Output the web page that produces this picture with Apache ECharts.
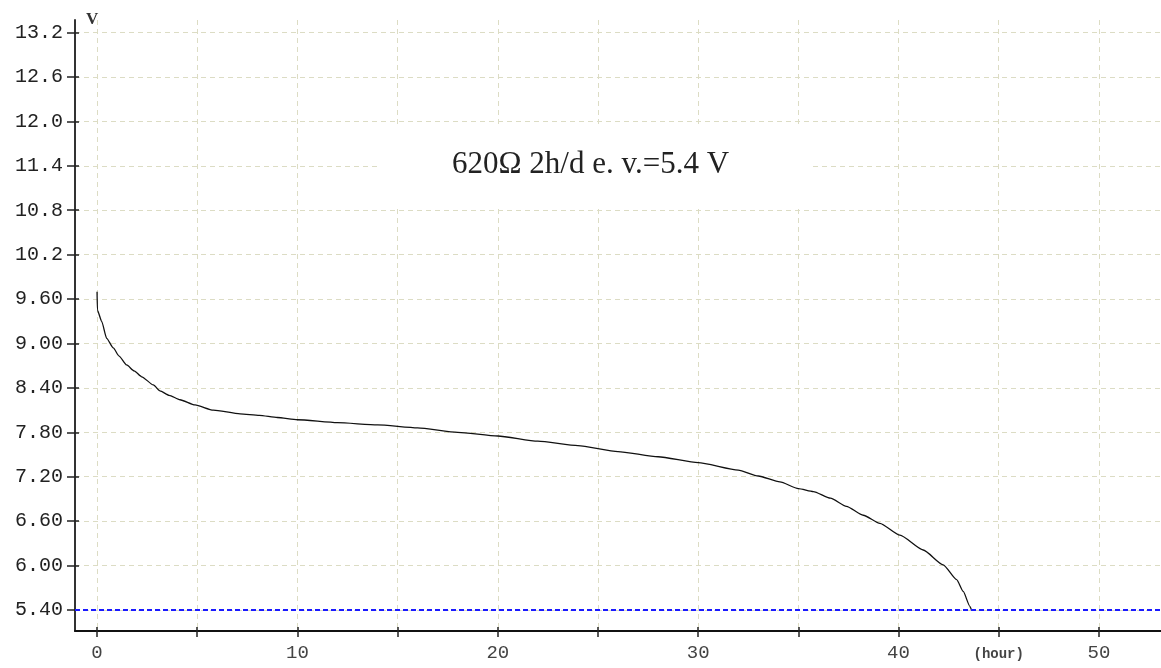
<!DOCTYPE html>
<html><head><meta charset="utf-8">
<script src="https://cdn.jsdelivr.net/npm/echarts@6/dist/echarts.min.js"></script>
<style>html,body{margin:0;padding:0;background:#fff}#c{width:1161px;height:668px}</style>
</head><body><div id="c"></div>
<script>
// discharge curve (hours, volts)
const hours = [0, 0.02, 0.23, 0.48, 0.81, 1.1, 1.48, 1.85, 2.23, 2.81, 3.14, 3.6, 4.14, 4.89, 5.8, 7.14, 8.1, 9, 10, 12, 14, 16, 18, 20, 22, 24, 26, 28, 30, 32, 33, 34.08, 35.0, 35.75, 36.6, 37.4, 38.24, 39.07, 40.07, 41.23, 42.23, 42.9, 43.23, 43.56, 43.64];
const volts = [9.70, 9.45, 9.30, 9.07, 8.94, 8.83, 8.71, 8.63, 8.55, 8.44, 8.36, 8.30, 8.24, 8.17, 8.10, 8.05, 8.03, 8.00, 7.97, 7.93, 7.90, 7.86, 7.80, 7.75, 7.68, 7.62, 7.54, 7.47, 7.39, 7.29, 7.21, 7.13, 7.04, 7.00, 6.91, 6.80, 6.68, 6.57, 6.41, 6.21, 6.01, 5.81, 5.65, 5.45, 5.40];
const cutoffVoltage = 5.4;
const yTickValues = [5.4, 6.0, 6.6, 7.2, 7.8, 8.4, 9.0, 9.6, 10.2, 10.8, 11.4, 12.0, 12.6, 13.2];
const yTickLabels = ['5.40', '6.00', '6.60', '7.20', '7.80', '8.40', '9.00', '9.60', '10.2', '10.8', '11.4', '12.0', '12.6', '13.2'];
const xTickValues = [0, 5, 10, 15, 20, 25, 30, 35, 40, 45, 50];
const xLabelValues = [0, 10, 20, 30, 40, 45, 50];
const xLabelTexts = ['0', '10', '20', '30', '40', '(hour)', '50'];
const titleText = '620Ω 2h/d e. v.=5.4 V';
const yUnit = 'V';

const data = hours.map((h, i) => [h, volts[i]]);
const nearestIdx = (arr, v) => { let b = 0; arr.forEach((a, i) => { if (Math.abs(a - v) < Math.abs(arr[b] - v)) b = i; }); return b; };

const gridColor = '#dcdcc4';
const mono = '"Liberation Mono", "DejaVu Sans Mono", monospace';

const chart = echarts.init(document.getElementById('c'), null, {renderer: 'canvas'});
chart.setOption({
  animation: false,
  backgroundColor: '#fff',
  title: {
    text: titleText,
    left: 380, top: 124,
    padding: [25, 80, 25, 72],
    backgroundColor: '#fff',
    textStyle: {fontFamily: '"Liberation Serif", serif', fontSize: 31, fontWeight: 'normal', color: '#222'}
  },
  grid: {left: 75, right: 0, top: 20, bottom: 37, containLabel: false, outerBoundsMode: 'none'},
  xAxis: [{
    type: 'value', min: -1.1, max: 53.1,
    axisLine: {show: true, onZero: false, lineStyle: {color: '#111', width: 2}},
    axisTick: {show: true, inside: false, length: 6, customValues: xTickValues, lineStyle: {color: '#222', width: 1.5}},
    axisLabel: {
      show: true, margin: 12, customValues: xLabelValues,
      fontFamily: mono, fontSize: 19, color: '#444',
      formatter: v => { const t = xLabelTexts[nearestIdx(xLabelValues, v)]; return t.startsWith('(') ? '{h|' + t + '}' : t; },
      rich: {h: {fontFamily: mono, fontSize: 14, fontWeight: 'bold', color: '#444', padding: [4, 0, 0, 0]}}
    },
    splitLine: {show: true, lineStyle: {color: gridColor, type: [5, 4], width: 1}}
  }, {
    type: 'value', min: -1.1, max: 53.1, position: 'bottom',
    axisLine: {show: false, onZero: false},
    axisTick: {show: true, inside: true, length: 4, customValues: xTickValues, lineStyle: {color: '#222', width: 1.5}},
    axisLabel: {show: false},
    splitLine: {show: false}
  }],
  yAxis: [{
    type: 'value', min: 5.116, max: 13.37,
    name: yUnit, nameLocation: 'end', nameGap: 0,
    nameTextStyle: {fontFamily: '"Liberation Serif", serif', fontSize: 17, fontWeight: 'bold', color: '#333', align: 'left', verticalAlign: 'middle', padding: [0, 0, 0, 11]},
    axisLine: {show: true, onZero: false, lineStyle: {color: '#333', width: 2}},
    axisTick: {show: true, inside: false, length: 8, customValues: yTickValues, lineStyle: {color: '#222', width: 1.5}},
    axisLabel: {
      show: true, margin: 12, customValues: yTickValues,
      fontFamily: mono, fontSize: 20, color: '#222',
      formatter: v => yTickLabels[nearestIdx(yTickValues, v)]
    },
    splitLine: {show: true, lineStyle: {color: gridColor, type: [5, 4], width: 1}}
  }, {
    type: 'value', min: 5.116, max: 13.37, position: 'left',
    axisLine: {show: false, onZero: false},
    axisTick: {show: true, inside: true, length: 4, customValues: yTickValues, lineStyle: {color: '#222', width: 1.5}},
    axisLabel: {show: false},
    splitLine: {show: false}
  }],
  series: [{
    type: 'line',
    data: data,
    showSymbol: false, symbol: 'none',
    smooth: 0.2, smoothMonotone: 'x',
    lineStyle: {color: '#111', width: 1.3},
    z: 3,
    markLine: {
      silent: true, symbol: 'none', label: {show: false},
      lineStyle: {color: '#1a1aff', width: 2, type: [5, 3]},
      data: [{yAxis: cutoffVoltage}]
    }
  }]
});
</script>
</body></html>
